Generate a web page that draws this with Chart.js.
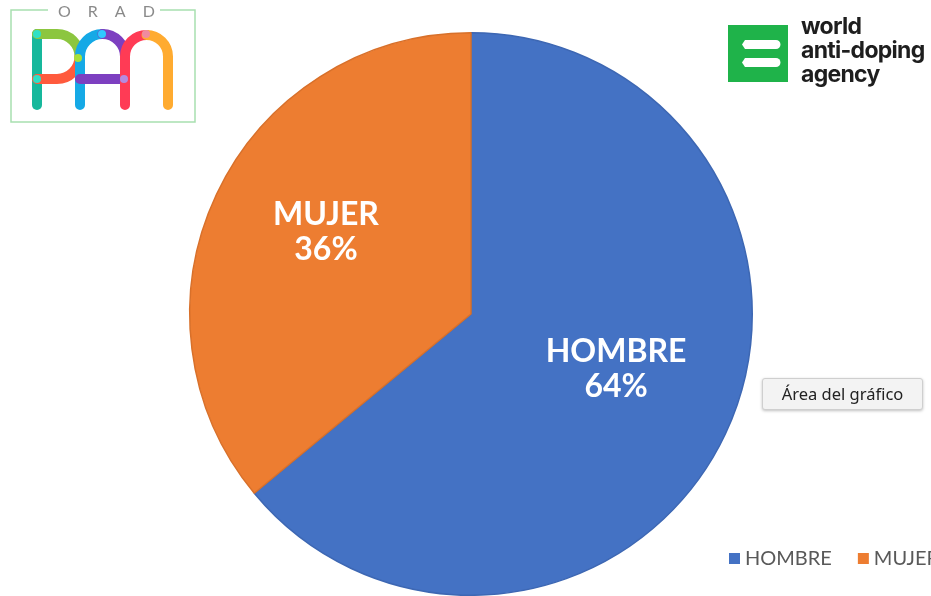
<!DOCTYPE html>
<html>
<head>
<meta charset="utf-8">
<script src="https://cdn.jsdelivr.net/npm/chart.js@4/dist/chart.umd.min.js"></script>
<style>
  html, body { margin: 0; padding: 0; background: #ffffff; overflow: hidden; }
  #wrap { position: relative; width: 931px; height: 596px; }
  #c { position: absolute; left: 0; top: 0; }
  .ov { position: absolute; }
  #tip {
    left: 762px; top: 378px; width: 159px; height: 30px;
    background: #f3f3f3; border: 1px solid #cfcfcf; border-radius: 3px;
    box-shadow: 0 1px 3px rgba(0,0,0,0.25);
    font-family: "Noto Sans", "Liberation Sans", sans-serif; font-size: 16.5px; color: #222;
    line-height: 30px; text-align: center;
  }
  #wada-text {
    left: 801px; top: 14px; font-family: Inter, "Liberation Sans", sans-serif; font-weight: 700;
    font-size: 23px; line-height: 24px; color: #1e1e1e; letter-spacing: -0.7px;
  }
</style>
</head>
<body>
<div id="wrap">
  <canvas id="c" width="931" height="596"></canvas>

  <!-- ORAD PAN logo -->
  <svg class="ov" style="left:0;top:0" width="200" height="130" viewBox="0 0 200 130">
    <path d="M48 10 H11 V122 H195 V10 H160" fill="none" stroke="#a8e0b0" stroke-width="1.5"/>
    <text x="58" y="17" font-family="Lato, sans-serif" font-size="16" fill="#8a8a8a" letter-spacing="17">ORAD</text>
    <g fill="none" stroke-width="10" stroke-linecap="round">
      <line x1="37" y1="34" x2="37" y2="105" stroke="#16b89c"/>
      <path d="M37 34 H57 A22.5 22.5 0 0 1 79.5 56.5" stroke="#8cc63f"/>
      <path d="M79.5 56.5 A22.5 22.5 0 0 1 57 79 H37" stroke="#ff5a3d"/>
      <path d="M80 105 V56.5 A22.5 22.5 0 0 1 102.5 34" stroke="#15a9e6"/>
      <path d="M102.5 34 A22.5 22.5 0 0 1 125 56.5" stroke="#7d3fc0"/>
      <line x1="80" y1="79" x2="124" y2="79" stroke="#7d3fc0"/>
      <path d="M125 105 V56.5 A21.5 21.5 0 0 1 146.5 35" stroke="#ff3b55"/>
      <path d="M146.5 35 A21.5 21.5 0 0 1 168 56.5 V105" stroke="#ffab30"/>
    </g>
    <circle cx="37" cy="34" r="4" fill="#2fe0c6"/>
    <circle cx="37" cy="79" r="4" fill="#2fe0c6"/>
    <circle cx="78" cy="58" r="4" fill="#a6e03a"/>
    <circle cx="124" cy="79" r="4" fill="#b48be0"/>
    <circle cx="102" cy="34" r="4" fill="#2fc8ff"/>
    <circle cx="146" cy="34" r="4" fill="#f08aa0"/>
  </svg>

  <!-- WADA logo -->
  <svg class="ov" style="left:726px;top:24px" width="64" height="60" viewBox="0 0 64 60">
    <rect x="2" y="1" width="60" height="57" fill="#1fb34a"/>
    <path d="M19 16 H50 A4.5 4.5 0 0 1 50 25 H19 L16 20.5 Z" fill="#ffffff"/>
    <path d="M19 34 H50 A4.5 4.5 0 0 1 50 43 H19 L16 38.5 Z" fill="#ffffff"/>
  </svg>
  <div id="wada-text" class="ov">world<br>anti-doping<br>agency</div>

  <div id="tip" class="ov">Área del gráfico</div>
</div>
<script>
const categories = ["HOMBRE", "MUJER"];
const values = [64, 36];
const percentLabels = ["64%", "36%"];
const sliceColors = ["#4472C4", "#ED7D31"];
const sliceBorders = ["#3d67b3", "#d8702a"];

const sliceLabels = {
  id: "sliceLabels",
  afterDatasetsDraw(chart) {
    const ctx = chart.ctx;
    const meta = chart.getDatasetMeta(0);
    ctx.save();
    ctx.fillStyle = "#ffffff";
    ctx.textAlign = "center";
    ctx.textBaseline = "middle";
    ctx.font = "bold 32px Lato, 'Open Sans', sans-serif";
    meta.data.forEach((arc, i) => {
      const p = arc.getProps(["x", "y", "startAngle", "endAngle", "outerRadius"], true);
      const mid = (p.startAngle + p.endAngle) / 2;
      const r = p.outerRadius * 0.57;
      const cx = p.x + Math.cos(mid) * r;
      const cy = p.y + Math.sin(mid) * r - 14;
      ctx.fillText(categories[i], cx, cy - 17);
      ctx.fillText(percentLabels[i], cx, cy + 18);
    });
    ctx.restore();
  }
};

const customLegend = {
  id: "customLegend",
  afterDraw(chart) {
    const ctx = chart.ctx;
    ctx.save();
    ctx.font = "20px Lato, 'Open Sans', sans-serif";
    ctx.textBaseline = "middle";
    let x = 729;
    const y = 559;
    categories.forEach((name, i) => {
      ctx.fillStyle = sliceColors[i];
      ctx.fillRect(x, y - 6, 11, 11);
      ctx.fillStyle = "#595959";
      ctx.fillText(name, x + 16, y);
      x += 16 + ctx.measureText(name).width + 26;
    });
    ctx.restore();
  }
};

new Chart(document.getElementById("c"), {
  type: "pie",
  data: {
    labels: categories,
    datasets: [{
      data: values,
      backgroundColor: sliceColors,
      borderColor: sliceBorders,
      borderWidth: 1.5
    }]
  },
  options: {
    responsive: false,
    animation: false,
    layout: { padding: { left: 11, right: 0, top: 32, bottom: 0 } },
    plugins: { legend: { display: false }, tooltip: { enabled: false } }
  },
  plugins: [sliceLabels, customLegend]
});
</script>
</body>
</html>
